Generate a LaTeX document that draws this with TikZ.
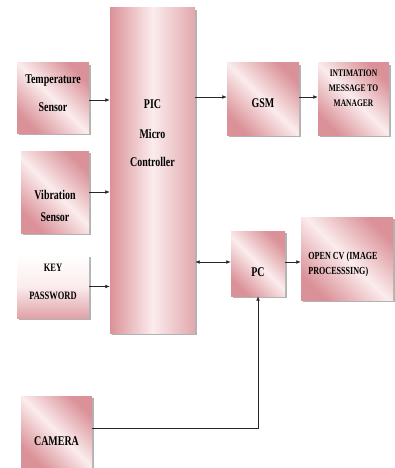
\documentclass[tikz,border=0pt]{standalone}
\usepackage{fontspec}
\setmainfont{Liberation Serif}[FakeStretch=0.75]
\usetikzlibrary{shadows,arrows.meta}
\definecolor{pk}{RGB}{218,146,152}
\definecolor{pkl}{RGB}{251,236,237}
\tikzset{
  box/.style={rectangle, draw=none, inner sep=0pt,
    left color=pk, right color=pk, middle color=pkl, shading angle=135,
    drop shadow={shadow xshift=1.6pt, shadow yshift=-1.6pt, fill=black!55, opacity=0.55}},
  vbox/.style={box, top color=white, bottom color=pk!85, middle color=pkl},
  hbox/.style={box, left color=pk, right color=pk!80, middle color=pkl, shading angle=90},
  txt/.style={font=\bfseries\fontsize{13.3}{15}\selectfont, align=center, inner sep=0pt},
  arr/.style={draw=black!85, line width=0.75pt, -{Latex[length=4.5pt,width=3.8pt]}},
  darr/.style={draw=black!85, line width=0.75pt, {Latex[length=4.5pt,width=3.8pt]}-{Latex[length=4.5pt,width=3.8pt]}}
}
\begin{document}
\begin{tikzpicture}[x=1pt,y=-1pt]
\useasboundingbox (0,0) rectangle (394,468);
% boxes
\node[box, minimum width=72pt, minimum height=70pt,
  label={[txt, yshift=5pt]center:Temperature\\[13pt]Sensor}] (temp) at (53,98) {};
\node[box, minimum width=68pt, minimum height=82pt,
  label={[txt, yshift=-13.5pt]center:Vibration\\[7pt]Sensor}] (vib) at (55,192) {};
\node[vbox, minimum width=72pt, minimum height=63pt,
  label={[txt, font=\bfseries\fontsize{11.3}{13}\selectfont, yshift=5pt]center:KEY\\[15pt]PASSWORD}] (key) at (53,286.5) {};
\node[hbox, minimum width=85pt, minimum height=325pt,
  label={[txt, yshift=37pt]center:PIC\\[15pt]Micro\\[13pt]Controller}] (pic) at (152.5,170.5) {};
\node[box, minimum width=72pt, minimum height=72pt,
  label={[txt, yshift=-4pt]center:GSM}] (gsm) at (263,99) {};
\node[box, minimum width=71pt, minimum height=72pt,
  label={[txt, font=\bfseries\fontsize{10}{11}\selectfont, yshift=10.5pt]center:INTIMATION\\[4pt]MESSAGE TO\\[4pt]MANAGER}] (intim) at (353.5,99) {};
\node[box, minimum width=54pt, minimum height=65pt,
  label={[txt, yshift=-8.5pt]center:PC}] (pc) at (258,263.5) {};
\node[box, minimum width=92pt, minimum height=83pt,
  label={[txt, font=\bfseries\fontsize{10.8}{12}\selectfont, align=left, xshift=-4pt, yshift=-6pt]center:OPEN CV (IMAGE\\[3pt]PROCESSSING)}] (cv) at (347,258.5) {};
\node[box, minimum width=71pt, minimum height=71pt,
  label={[txt, yshift=-9.5pt]center:CAMERA}] (cam) at (56.5,431.5) {};
% connectors
\draw[arr] ([yshift=-2pt]temp.east) -- ([yshift=-2pt]temp.east -| pic.west);
\draw[arr] (vib.east) -- (vib.east -| pic.west);
\draw[arr] (key.east) -- (key.east -| pic.west);
\draw[arr] ([yshift=2pt]gsm.west -| pic.east) -- ([yshift=2pt]gsm.west);
\draw[arr] ([yshift=2pt]gsm.east) -- ([yshift=2pt]gsm.east -| intim.west);
\draw[darr] ([yshift=1.5pt]pc.west -| pic.east) -- ([yshift=1.5pt]pc.west);
\draw[arr] ([yshift=1.5pt]pc.east) -- ([yshift=1.5pt]pc.east -| cv.west);
\draw[arr] ([yshift=3.5pt]cam.east) -| (pc.south);
\end{tikzpicture}
\end{document}
